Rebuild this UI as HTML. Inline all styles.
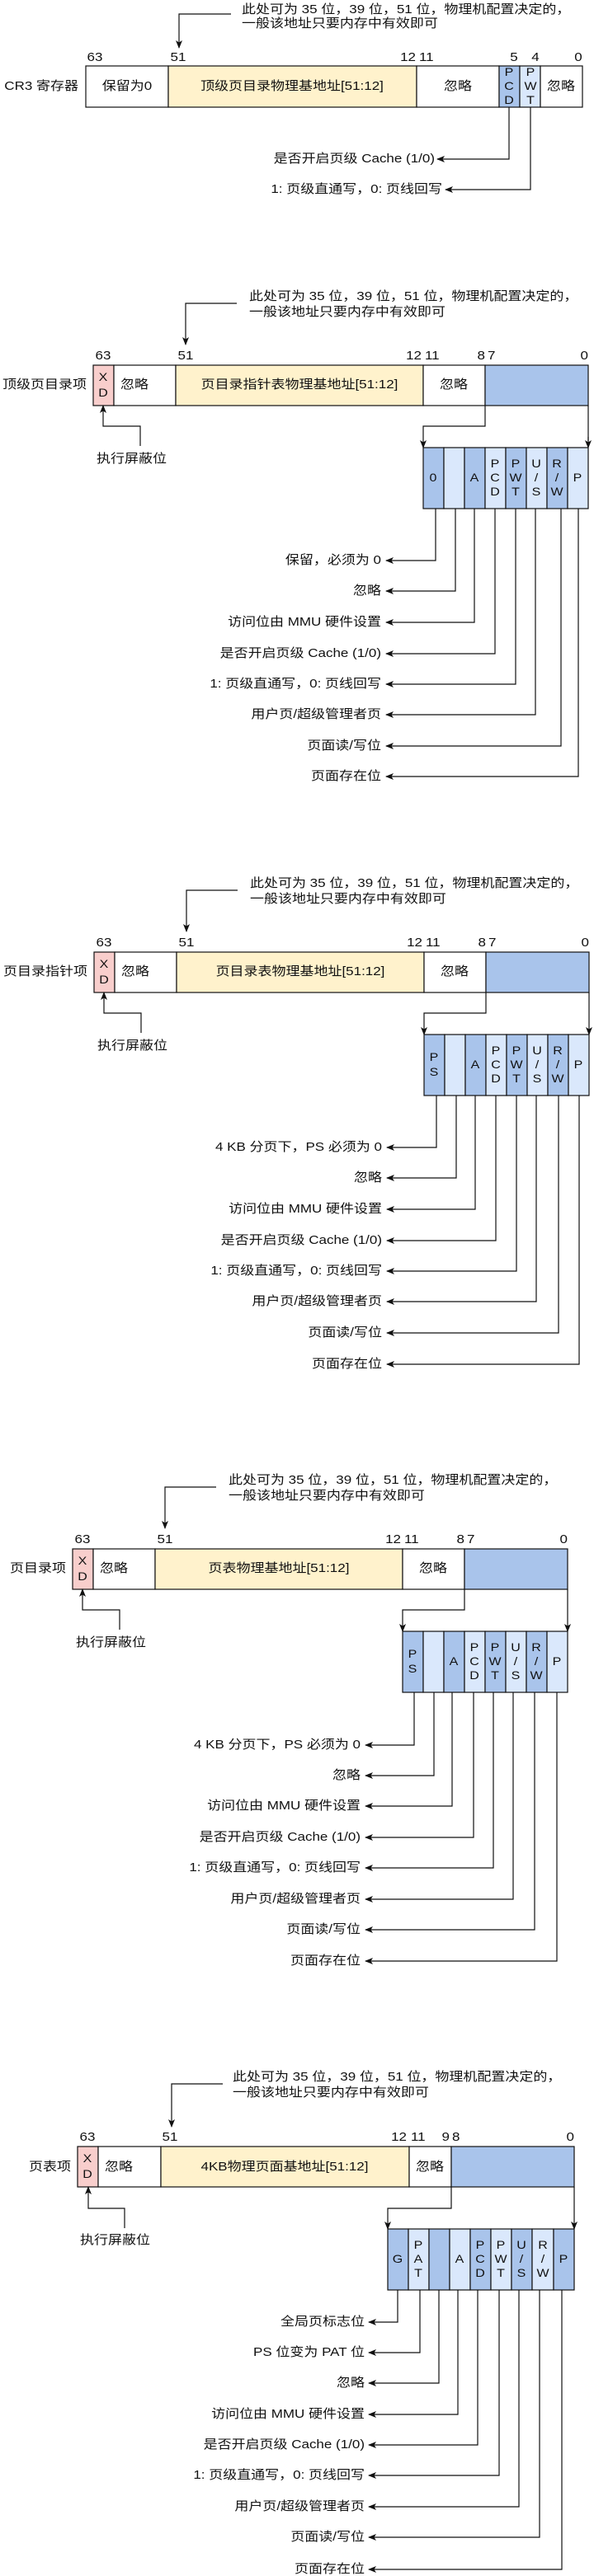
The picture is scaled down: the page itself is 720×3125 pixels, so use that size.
<!DOCTYPE html>
<html><head><meta charset="utf-8">
<style>
html,body{margin:0;padding:0;background:#fff;}
svg{display:block;}
text{font-family:"Liberation Sans","Noto Sans CJK SC",sans-serif;font-size:17px;fill:#111;dominant-baseline:central;transform-box:fill-box;transform-origin:center;transform:scaleY(.88);}
.s{font-size:16px;}
.e{text-anchor:end;}
.m{text-anchor:middle;}
rect{stroke:#111;stroke-width:1.2;}
polyline,line{fill:none;stroke:#111;stroke-width:1.2;}
.w{fill:#fff}.y{fill:#fff2cc}.d{fill:#a9c4eb}.l{fill:#dae8fc}.p{fill:#f8cecc}
</style></head><body>
<svg width="720" height="3125" viewBox="0 0 720 3125" xmlns="http://www.w3.org/2000/svg">
<defs>
<marker id="a" markerWidth="10" markerHeight="10" refX="9" refY="5" orient="auto" markerUnits="userSpaceOnUse">
<path d="M0,1 L10,5 L0,9 L2.5,5 z" fill="#111"/></marker>
</defs>

<!-- Section 1 -->
<text x="293" y="12">此处可为 35 位，39 位，51 位，物理机配置决定的，</text>
<text x="293" y="29">一般该地址只要内存中有效即可</text>
<polyline points="280,17 217,17 217,58" marker-end="url(#a)"/>
<text class="m" x="115" y="70">63</text>
<text class="m" x="216" y="70">51</text>
<text class="e" x="504" y="70">12</text>
<text x="508" y="70">11</text>
<text class="m" x="623" y="70">5</text>
<text class="m" x="649" y="70">4</text>
<text class="m" x="701" y="70">0</text>
<text class="e" x="95" y="105">CR3 寄存器</text>
<rect class="w" x="104" y="80" width="100" height="50"/>
<rect class="y" x="204" y="80" width="301" height="50"/>
<rect class="w" x="505" y="80" width="100" height="50"/>
<rect class="d" x="605" y="80" width="25" height="50"/>
<rect class="l" x="630" y="80" width="25" height="50"/>
<rect class="w" x="655" y="80" width="51" height="50"/>
<text class="m" x="154" y="105">保留为0</text>
<text class="m" x="354" y="105">顶级页目录物理基地址[51:12]</text>
<text class="m" x="555" y="105">忽略</text>
<text class="m s" x="617" y="88">P</text><text class="m s" x="617" y="105">C</text><text class="m s" x="617" y="122">D</text>
<text class="m s" x="643" y="88">P</text><text class="m s" x="643" y="105">W</text><text class="m s" x="643" y="122">T</text>
<text class="m" x="680" y="105">忽略</text>
<polyline points="617,130 617,193 530,193" marker-end="url(#a)"/>
<polyline points="643,130 643,230 540,230" marker-end="url(#a)"/>
<text class="e" x="527" y="193">是否开启页级 Cache (1/0)</text>
<text class="e" x="536" y="230">1: 页级直通写，0: 页线回写</text>

<!-- Section 2 -->
<g>
<text x="302" y="360">此处可为 35 位，39 位，51 位，物理机配置决定的，</text>
<text x="302" y="379">一般该地址只要内存中有效即可</text>
<polyline points="287,368 225,368 225,418" marker-end="url(#a)"/>
<text class="m" x="125" y="432">63</text><text class="m" x="225" y="432">51</text>
<text class="e" x="511" y="432">12</text><text x="515" y="432">11</text>
<text class="e" x="588" y="432">8</text><text x="591" y="432">7</text>
<text class="e" x="713" y="432">0</text>
<text class="e" x="105" y="467">顶级页目录项</text>
<rect class="p" x="113" y="443" width="25" height="49"/>
<rect class="w" x="138" y="443" width="75" height="49"/>
<rect class="y" x="213" y="443" width="300" height="49"/>
<rect class="w" x="513" y="443" width="75" height="49"/>
<rect class="d" x="588" y="443" width="125" height="49"/>
<text class="m s" x="125" y="458">X</text><text class="m s" x="125" y="477">D</text>
<text x="146" y="467">忽略</text>
<text class="m" x="363" y="467">页目录指针表物理基地址[51:12]</text>
<text class="m" x="550" y="467">忽略</text>
<polyline points="170,541 170,517 125,517 125,492" marker-end="url(#a)"/>
<text x="117" y="557">执行屏蔽位</text>
<polyline points="588,492 588,517 513,517 513,543" marker-end="url(#a)"/>
<line x1="713" y1="492" x2="713" y2="535"/><polyline points="713,530 713,543" marker-end="url(#a)"/>
<rect class="d" x="513" y="543" width="25" height="74"/><rect class="l" x="538" y="543" width="25" height="74"/>
<rect class="d" x="563" y="543" width="25" height="74"/><rect class="l" x="588" y="543" width="25" height="74"/>
<rect class="d" x="613" y="543" width="25" height="74"/><rect class="l" x="638" y="543" width="25" height="74"/>
<rect class="d" x="663" y="543" width="25" height="74"/><rect class="l" x="688" y="543" width="25" height="74"/>
<text class="m s" x="525" y="580">0</text><text class="m s" x="575" y="580">A</text>
<text class="m s" x="600" y="563">P</text><text class="m s" x="600" y="580">C</text><text class="m s" x="600" y="597">D</text>
<text class="m s" x="625" y="563">P</text><text class="m s" x="625" y="580">W</text><text class="m s" x="625" y="597">T</text>
<text class="m s" x="650" y="563">U</text><text class="m s" x="650" y="580">/</text><text class="m s" x="650" y="597">S</text>
<text class="m s" x="675" y="563">R</text><text class="m s" x="675" y="580">/</text><text class="m s" x="675" y="597">W</text>
<text class="m s" x="700" y="580">P</text>
<polyline points="528,617 528,680 468,680" marker-end="url(#a)"/>
<polyline points="552,617 552,717 468,717" marker-end="url(#a)"/>
<polyline points="575,617 575,755 468,755" marker-end="url(#a)"/>
<polyline points="600,617 600,793 468,793" marker-end="url(#a)"/>
<polyline points="625,617 625,830 468,830" marker-end="url(#a)"/>
<polyline points="649,617 649,867 468,867" marker-end="url(#a)"/>
<polyline points="680,617 680,905 468,905" marker-end="url(#a)"/>
<polyline points="701,617 701,942 468,942" marker-end="url(#a)"/>
<text class="e" x="462" y="680">保留，必须为 0</text>
<text class="e" x="462" y="717">忽略</text>
<text class="e" x="462" y="755">访问位由 MMU 硬件设置</text>
<text class="e" x="462" y="793">是否开启页级 Cache (1/0)</text>
<text class="e" x="462" y="830">1: 页级直通写，0: 页线回写</text>
<text class="e" x="462" y="867">用户页/超级管理者页</text>
<text class="e" x="462" y="905">页面读/写位</text>
<text class="e" x="462" y="942">页面存在位</text>
</g>

<!-- Section 3 -->
<g transform="translate(1,712)">
<text x="302" y="360">此处可为 35 位，39 位，51 位，物理机配置决定的，</text>
<text x="302" y="379">一般该地址只要内存中有效即可</text>
<polyline points="287,368 225,368 225,418" marker-end="url(#a)"/>
<text class="m" x="125" y="432">63</text><text class="m" x="225" y="432">51</text>
<text class="e" x="511" y="432">12</text><text x="515" y="432">11</text>
<text class="e" x="588" y="432">8</text><text x="591" y="432">7</text>
<text class="e" x="713" y="432">0</text>
<text class="e" x="105" y="467">页目录指针项</text>
<rect class="p" x="113" y="443" width="25" height="49"/>
<rect class="w" x="138" y="443" width="75" height="49"/>
<rect class="y" x="213" y="443" width="300" height="49"/>
<rect class="w" x="513" y="443" width="75" height="49"/>
<rect class="d" x="588" y="443" width="125" height="49"/>
<text class="m s" x="125" y="458">X</text><text class="m s" x="125" y="477">D</text>
<text x="146" y="467">忽略</text>
<text class="m" x="363" y="467">页目录表物理基地址[51:12]</text>
<text class="m" x="550" y="467">忽略</text>
<polyline points="170,541 170,517 125,517 125,492" marker-end="url(#a)"/>
<text x="117" y="557">执行屏蔽位</text>
<polyline points="588,492 588,517 513,517 513,543" marker-end="url(#a)"/>
<polyline points="713,492 713,543" marker-end="url(#a)"/>
<rect class="d" x="513" y="543" width="25" height="74"/><rect class="l" x="538" y="543" width="25" height="74"/>
<rect class="d" x="563" y="543" width="25" height="74"/><rect class="l" x="588" y="543" width="25" height="74"/>
<rect class="d" x="613" y="543" width="25" height="74"/><rect class="l" x="638" y="543" width="25" height="74"/>
<rect class="d" x="663" y="543" width="25" height="74"/><rect class="l" x="688" y="543" width="25" height="74"/>
<text class="m s" x="525" y="571">P</text><text class="m s" x="525" y="589">S</text><text class="m s" x="575" y="580">A</text>
<text class="m s" x="600" y="563">P</text><text class="m s" x="600" y="580">C</text><text class="m s" x="600" y="597">D</text>
<text class="m s" x="625" y="563">P</text><text class="m s" x="625" y="580">W</text><text class="m s" x="625" y="597">T</text>
<text class="m s" x="650" y="563">U</text><text class="m s" x="650" y="580">/</text><text class="m s" x="650" y="597">S</text>
<text class="m s" x="675" y="563">R</text><text class="m s" x="675" y="580">/</text><text class="m s" x="675" y="597">W</text>
<text class="m s" x="700" y="580">P</text>
<polyline points="528,617 528,680 468,680" marker-end="url(#a)"/>
<polyline points="552,617 552,717 468,717" marker-end="url(#a)"/>
<polyline points="575,617 575,755 468,755" marker-end="url(#a)"/>
<polyline points="600,617 600,793 468,793" marker-end="url(#a)"/>
<polyline points="625,617 625,830 468,830" marker-end="url(#a)"/>
<polyline points="649,617 649,867 468,867" marker-end="url(#a)"/>
<polyline points="676,617 676,905 468,905" marker-end="url(#a)"/>
<polyline points="701,617 701,943 468,943" marker-end="url(#a)"/>
<text class="e" x="462" y="680">4 KB 分页下，PS 必须为 0</text>
<text class="e" x="462" y="717">忽略</text>
<text class="e" x="462" y="755">访问位由 MMU 硬件设置</text>
<text class="e" x="462" y="793">是否开启页级 Cache (1/0)</text>
<text class="e" x="462" y="830">1: 页级直通写，0: 页线回写</text>
<text class="e" x="462" y="867">用户页/超级管理者页</text>
<text class="e" x="462" y="905">页面读/写位</text>
<text class="e" x="462" y="943">页面存在位</text>
</g>

<!-- Section 4 -->
<g transform="translate(-25,1436)">
<text x="302" y="360">此处可为 35 位，39 位，51 位，物理机配置决定的，</text>
<text x="302" y="379">一般该地址只要内存中有效即可</text>
<polyline points="287,368 225,368 225,418" marker-end="url(#a)"/>
<text class="m" x="125" y="432">63</text><text class="m" x="225" y="432">51</text>
<text class="e" x="511" y="432">12</text><text x="515" y="432">11</text>
<text class="e" x="588" y="432">8</text><text x="591" y="432">7</text>
<text class="e" x="713" y="432">0</text>
<text class="e" x="105" y="467">页目录项</text>
<rect class="p" x="113" y="443" width="25" height="49"/>
<rect class="w" x="138" y="443" width="75" height="49"/>
<rect class="y" x="213" y="443" width="300" height="49"/>
<rect class="w" x="513" y="443" width="75" height="49"/>
<rect class="d" x="588" y="443" width="125" height="49"/>
<text class="m s" x="125" y="458">X</text><text class="m s" x="125" y="477">D</text>
<text x="146" y="467">忽略</text>
<text class="m" x="363" y="467">页表物理基地址[51:12]</text>
<text class="m" x="550" y="467">忽略</text>
<polyline points="170,541 170,517 125,517 125,492" marker-end="url(#a)"/>
<text x="117" y="557">执行屏蔽位</text>
<polyline points="588,492 588,517 513,517 513,543" marker-end="url(#a)"/>
<polyline points="713,492 713,543" marker-end="url(#a)"/>
<rect class="d" x="513" y="543" width="25" height="74"/><rect class="l" x="538" y="543" width="25" height="74"/>
<rect class="d" x="563" y="543" width="25" height="74"/><rect class="l" x="588" y="543" width="25" height="74"/>
<rect class="d" x="613" y="543" width="25" height="74"/><rect class="l" x="638" y="543" width="25" height="74"/>
<rect class="d" x="663" y="543" width="25" height="74"/><rect class="l" x="688" y="543" width="25" height="74"/>
<text class="m s" x="525" y="571">P</text><text class="m s" x="525" y="589">S</text><text class="m s" x="575" y="580">A</text>
<text class="m s" x="600" y="563">P</text><text class="m s" x="600" y="580">C</text><text class="m s" x="600" y="597">D</text>
<text class="m s" x="625" y="563">P</text><text class="m s" x="625" y="580">W</text><text class="m s" x="625" y="597">T</text>
<text class="m s" x="650" y="563">U</text><text class="m s" x="650" y="580">/</text><text class="m s" x="650" y="597">S</text>
<text class="m s" x="675" y="563">R</text><text class="m s" x="675" y="580">/</text><text class="m s" x="675" y="597">W</text>
<text class="m s" x="700" y="580">P</text>
<polyline points="527,617 527,681 468,681" marker-end="url(#a)"/>
<polyline points="551,617 551,718 468,718" marker-end="url(#a)"/>
<polyline points="573,617 573,755 468,755" marker-end="url(#a)"/>
<polyline points="599,617 599,793 468,793" marker-end="url(#a)"/>
<polyline points="623,617 623,830 468,830" marker-end="url(#a)"/>
<polyline points="647,617 647,868 468,868" marker-end="url(#a)"/>
<polyline points="673,617 673,905 468,905" marker-end="url(#a)"/>
<polyline points="700,617 700,943 468,943" marker-end="url(#a)"/>
<text class="e" x="462" y="681">4 KB 分页下，PS 必须为 0</text>
<text class="e" x="462" y="718">忽略</text>
<text class="e" x="462" y="755">访问位由 MMU 硬件设置</text>
<text class="e" x="462" y="793">是否开启页级 Cache (1/0)</text>
<text class="e" x="462" y="830">1: 页级直通写，0: 页线回写</text>
<text class="e" x="462" y="868">用户页/超级管理者页</text>
<text class="e" x="462" y="905">页面读/写位</text>
<text class="e" x="462" y="943">页面存在位</text>
</g>

<!-- Section 5 -->
<text x="282" y="2520">此处可为 35 位，39 位，51 位，物理机配置决定的，</text>
<text x="282" y="2539">一般该地址只要内存中有效即可</text>
<polyline points="270,2528 208,2528 208,2580" marker-end="url(#a)"/>
<text class="m" x="106" y="2593">63</text><text class="m" x="206" y="2593">51</text>
<text class="e" x="493" y="2593">12</text><text x="498" y="2593">11</text>
<text class="e" x="545" y="2593">9</text><text x="548" y="2593">8</text>
<text class="e" x="696" y="2593">0</text>
<text class="e" x="86" y="2629">页表项</text>
<rect class="p" x="94" y="2604" width="25" height="49"/>
<rect class="w" x="119" y="2604" width="76" height="49"/>
<rect class="y" x="195" y="2604" width="301" height="49"/>
<rect class="w" x="496" y="2604" width="51" height="49"/>
<rect class="d" x="547" y="2604" width="149" height="49"/>
<text class="m s" x="106" y="2619">X</text><text class="m s" x="106" y="2638">D</text>
<text x="127" y="2629">忽略</text>
<text class="m" x="345" y="2629">4KB物理页面基地址[51:12]</text>
<text class="m" x="521" y="2629">忽略</text>
<polyline points="151,2703 151,2679 107,2679 107,2653" marker-end="url(#a)"/>
<text x="97" y="2718">执行屏蔽位</text>
<polyline points="547,2653 547,2679 470,2679 470,2704" marker-end="url(#a)"/>
<polyline points="696,2653 696,2704" marker-end="url(#a)"/>
<rect class="d" x="470" y="2704" width="25" height="74"/><rect class="l" x="495" y="2704" width="25" height="74"/>
<rect class="d" x="520" y="2704" width="25" height="74"/><rect class="l" x="545" y="2704" width="25" height="74"/>
<rect class="d" x="570" y="2704" width="25" height="74"/><rect class="l" x="595" y="2704" width="25" height="74"/>
<rect class="d" x="620" y="2704" width="25" height="74"/><rect class="l" x="645" y="2704" width="26" height="74"/>
<rect class="d" x="671" y="2704" width="25" height="74"/>
<text class="m s" x="482" y="2741">G</text>
<text class="m s" x="507" y="2724">P</text><text class="m s" x="507" y="2741">A</text><text class="m s" x="507" y="2758">T</text>
<text class="m s" x="557" y="2741">A</text>
<text class="m s" x="582" y="2724">P</text><text class="m s" x="582" y="2741">C</text><text class="m s" x="582" y="2758">D</text>
<text class="m s" x="607" y="2724">P</text><text class="m s" x="607" y="2741">W</text><text class="m s" x="607" y="2758">T</text>
<text class="m s" x="632" y="2724">U</text><text class="m s" x="632" y="2741">/</text><text class="m s" x="632" y="2758">S</text>
<text class="m s" x="658" y="2724">R</text><text class="m s" x="658" y="2741">/</text><text class="m s" x="658" y="2758">W</text>
<text class="m s" x="683" y="2741">P</text>
<polyline points="482,2778 482,2817 447,2817" marker-end="url(#a)"/>
<polyline points="509,2778 509,2854 447,2854" marker-end="url(#a)"/>
<polyline points="532,2778 532,2891 447,2891" marker-end="url(#a)"/>
<polyline points="555,2778 555,2929 447,2929" marker-end="url(#a)"/>
<polyline points="579,2778 579,2966 447,2966" marker-end="url(#a)"/>
<polyline points="605,2778 605,3003 447,3003" marker-end="url(#a)"/>
<polyline points="629,2778 629,3041 447,3041" marker-end="url(#a)"/>
<polyline points="654,2778 654,3078 447,3078" marker-end="url(#a)"/>
<polyline points="681,2778 681,3117 447,3117" marker-end="url(#a)"/>
<text class="e" x="442" y="2817">全局页标志位</text>
<text class="e" x="442" y="2854">PS 位变为 PAT 位</text>
<text class="e" x="442" y="2891">忽略</text>
<text class="e" x="442" y="2929">访问位由 MMU 硬件设置</text>
<text class="e" x="442" y="2966">是否开启页级 Cache (1/0)</text>
<text class="e" x="442" y="3003">1: 页级直通写，0: 页线回写</text>
<text class="e" x="442" y="3041">用户页/超级管理者页</text>
<text class="e" x="442" y="3078">页面读/写位</text>
<text class="e" x="442" y="3117">页面存在位</text>
</svg>
</body></html>
